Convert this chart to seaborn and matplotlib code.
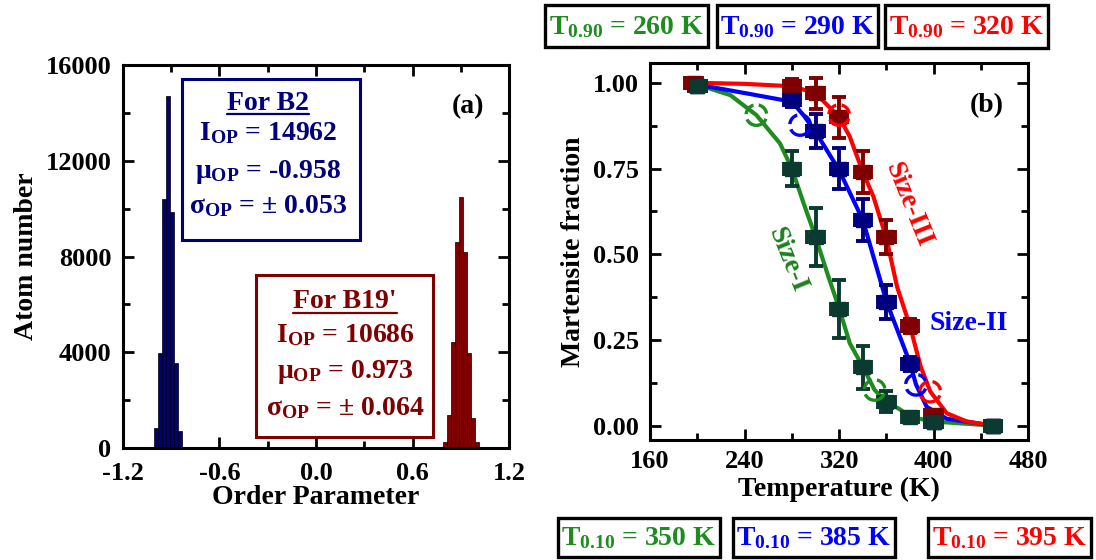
import numpy as np
import pandas as pd
import matplotlib
matplotlib.use("Agg")
import matplotlib.pyplot as plt
from matplotlib.patches import Rectangle
from matplotlib.ticker import MultipleLocator
import seaborn as sns

# ---------------- Panel (a) data: order-parameter histograms ----------------
b2_centers = [-1.02, -0.995, -0.97, -0.945, -0.92, -0.895, -0.87, -0.845, -0.82]
b2_counts = [60, 820, 3950, 10400, 14700, 9870, 3550, 690, 60]
b19_centers = [0.80, 0.825, 0.85, 0.875, 0.90, 0.925, 0.95, 0.975, 1.0]
b19_counts = [230, 1380, 4420, 8600, 10500, 8200, 3980, 1250, 230]
bin_width = 0.025

# ---------------- Panel (b) data: martensite fraction ----------------
size1_T = [200, 280, 300, 320, 340, 360, 380, 400, 450]
size1_f = [0.99, 0.75, 0.55, 0.34, 0.17, 0.07, 0.025, 0.01, 0.0]
size1_ferr = [0.01, 0.05, 0.085, 0.085, 0.063, 0.03, 0.01, 0.01, 0.01]
size2_T = [200, 280, 300, 320, 340, 360, 380, 400, 450]
size2_f = [0.99, 0.95, 0.86, 0.75, 0.60, 0.36, 0.18, 0.01, 0.0]
size2_ferr = [0.01, 0.02, 0.05, 0.06, 0.06, 0.05, 0.02, 0.01, 0.01]
size3_T = [197, 280, 300, 320, 340, 360, 380, 400, 450]
size3_f = [1.0, 0.99, 0.97, 0.90, 0.74, 0.55, 0.29, 0.03, 0.0]
size3_ferr = [0.01, 0.02, 0.045, 0.06, 0.06, 0.05, 0.02, 0.01, 0.01]
T_err = 7

# fitted curves
fit1_T = [200, 228, 250, 270, 280, 290, 300, 310, 320, 329, 340, 350, 360, 372, 380, 400, 450]
fit1_f = [0.995, 0.964, 0.906, 0.823, 0.75, 0.648, 0.551, 0.444, 0.342, 0.24, 0.172, 0.104, 0.07, 0.046, 0.025, 0.012, 0.0]
fit2_T = [200, 242, 280, 290, 300, 320, 340, 360, 380, 385, 394, 411, 450]
fit2_f = [0.995, 0.969, 0.945, 0.905, 0.857, 0.745, 0.60, 0.362, 0.182, 0.12, 0.055, 0.02, 0.0]
fit3_T = [200, 240, 280, 300, 320, 329, 340, 349, 360, 369, 380, 389, 397, 411, 428, 450]
fit3_f = [1.0, 0.997, 0.99, 0.97, 0.90, 0.843, 0.74, 0.668, 0.546, 0.405, 0.289, 0.172, 0.10, 0.036, 0.012, 0.0]

# T0.90 / T0.10 circles
circ1_T, circ1_f = [250, 350], [0.906, 0.104]
circ2_T, circ2_f = [287, 385], [0.877, 0.119]
circ3_T, circ3_f = [320, 397], [0.906, 0.099]

t90_labels = ["260", "290", "320"]
t10_labels = ["350", "385", "395"]

# ---------------- style ----------------
sns.set_style("ticks")
plt.rcParams["font.family"] = ["Liberation Serif", "DejaVu Serif"]
plt.rcParams["font.weight"] = "bold"
plt.rcParams["text.color"] = "black"
plt.rcParams["axes.labelcolor"] = "black"
plt.rcParams["mathtext.fontset"] = "custom"
plt.rcParams["mathtext.rm"] = "Liberation Serif:bold"
plt.rcParams["mathtext.it"] = "Liberation Serif:bold"
plt.rcParams["mathtext.bf"] = "Liberation Serif:bold"

TICK_FS = 19
LAB_FS = 20
BOX_FS = 20

fig = plt.figure(figsize=(10.96, 5.6), dpi=100)
W, H = 1096, 560

def px_axes(x0, x1, ytop, ybot):
    return fig.add_axes([x0 / W, 1 - ybot / H, (x1 - x0) / W, (ybot - ytop) / H])

axa = px_axes(122.7, 509.3, 65, 448)
axb = px_axes(650, 1028.3, 63.3, 440)

def style_axes(ax, xpad):
    for s in ax.spines.values():
        s.set_linewidth(2.2)
        s.set_color("black")
        s.set_visible(True)
    ax.tick_params(which="both", direction="in", top=True, right=True,
                   width=2.0, colors="black", labelsize=TICK_FS)
    ax.tick_params(which="major", length=8)
    ax.tick_params(which="minor", length=5)
    ax.tick_params(axis="x", which="major", pad=xpad)
    ax.tick_params(axis="y", which="major", pad=8)
    for lab in ax.get_xticklabels() + ax.get_yticklabels():
        lab.set_fontweight("bold")

# ---------------- Panel (a) ----------------
navy = "#00007F"
maroon = "#7F0000"
df_b2 = pd.DataFrame({"op": b2_centers, "n": b2_counts})
df_b19 = pd.DataFrame({"op": b19_centers, "n": b19_counts})
sns.histplot(data=df_b2, x="op", weights="n", binwidth=bin_width,
             binrange=(b2_centers[0] - bin_width / 2, b2_centers[-1] + bin_width / 2), ax=axa,
             color=navy, alpha=1, edgecolor="black", linewidth=0.5)
sns.histplot(data=df_b19, x="op", weights="n", binwidth=bin_width,
             binrange=(b19_centers[0] - bin_width / 2, b19_centers[-1] + bin_width / 2), ax=axa,
             color=maroon, alpha=1, edgecolor="black", linewidth=0.5)
axa.set_xlim(-1.2, 1.2)
axa.set_ylim(0, 16000)
axa.xaxis.set_major_locator(MultipleLocator(0.6))
axa.xaxis.set_minor_locator(MultipleLocator(0.3))
axa.yaxis.set_major_locator(MultipleLocator(4000))
axa.yaxis.set_minor_locator(MultipleLocator(2000))
axa.set_xticks([-1.2, -0.6, 0.0, 0.6, 1.2])
axa.set_xticklabels(["-1.2", "-0.6", "0.0", "0.6", "1.2"])
axa.set_xlabel("Order Parameter", fontsize=LAB_FS, fontweight="bold", labelpad=0, color="black")
axa.set_ylabel("Atom number", fontsize=LAB_FS, fontweight="bold", labelpad=5, color="black")
style_axes(axa, 10)

# text boxes in panel (a)
axa.add_patch(Rectangle((0.1526, 0.543), 0.614 - 0.1526, 0.963 - 0.543, transform=axa.transAxes,
                        fill=False, edgecolor=navy, linewidth=2.2, zorder=5))
axa.add_patch(Rectangle((0.345, 0.0295), 0.803 - 0.345, 0.452 - 0.0295, transform=axa.transAxes,
                        fill=False, edgecolor=maroon, linewidth=2.2, zorder=5))

head_texts = []
def box_lines(xc, ys, lines, color):
    for i, (y, s) in enumerate(zip(ys, lines)):
        t = axa.text(xc, y, s, transform=axa.transAxes, ha="center", va="baseline",
                     fontsize=BOX_FS, fontweight="bold", color=color, zorder=6)
        if i == 0:
            head_texts.append((t, color))

box_lines(0.376, [0.883, 0.804, 0.704, 0.613],
          ["For B2", r"I$_{\mathrm{OP}}$ = 14962", r"μ$_{\mathrm{OP}}$ = -0.958",
           r"σ$_{\mathrm{OP}}$ = ± 0.053"], navy)
box_lines(0.575, [0.365, 0.2776, 0.182, 0.086],
          ["For B19'", r"I$_{\mathrm{OP}}$ = 10686", r"μ$_{\mathrm{OP}}$ = 0.973",
           r"σ$_{\mathrm{OP}}$ = ± 0.064"], maroon)
axa.text(0.894, 0.891, "(a)", transform=axa.transAxes, ha="center", va="center",
         fontsize=BOX_FS, fontweight="bold", color="black")

# ---------------- Panel (b) ----------------
c_green, c_blue, c_red = "#1E8C1E", "#0000FF", "#FF0000"
m_green, m_blue, m_red = "#0B3B30", "#00007F", "#800000"

for fT, ff, col in [(fit1_T, fit1_f, c_green), (fit2_T, fit2_f, c_blue), (fit3_T, fit3_f, c_red)]:
    sns.lineplot(x=fT, y=ff, ax=axb, color=col, linewidth=3.0, sort=False,
                 estimator=None, zorder=2)

for T, f, fe, mc in [(size3_T, size3_f, size3_ferr, m_red),
                     (size2_T, size2_f, size2_ferr, m_blue),
                     (size1_T, size1_f, size1_ferr, m_green)]:
    axb.errorbar(T, f, yerr=fe, xerr=T_err, fmt="s", color=mc, markersize=10,
                 elinewidth=2.8, capsize=5, capthick=2.8, zorder=4)

for cT, cf, col in [(circ1_T, circ1_f, c_green), (circ2_T, circ2_f, c_blue), (circ3_T, circ3_f, c_red)]:
    sns.scatterplot(x=cT, y=cf, ax=axb, s=220, facecolors="none", edgecolor=col,
                    linewidth=2.4, linestyle="--", marker="o", zorder=5)

axb.set_xlim(160, 480)
axb.set_ylim(-0.042, 1.057)
axb.xaxis.set_major_locator(MultipleLocator(80))
axb.xaxis.set_minor_locator(MultipleLocator(40))
axb.yaxis.set_major_locator(MultipleLocator(0.25))
axb.yaxis.set_minor_locator(MultipleLocator(0.125))
axb.set_yticks([0, 0.25, 0.5, 0.75, 1.0])
axb.set_yticklabels(["0.00", "0.25", "0.50", "0.75", "1.00"])
axb.set_xlabel("Temperature (K)", fontsize=LAB_FS, fontweight="bold", labelpad=3, color="black")
axb.set_ylabel("Martensite fraction", fontsize=LAB_FS, fontweight="bold", labelpad=5, color="black")
style_axes(axb, 7)

axb.text(275.7, 0.483, "Size-I", rotation=-68, color="#1E801E", fontsize=BOX_FS,
         fontweight="bold", ha="center", va="center", rotation_mode="anchor")
axb.text(378.7, 0.643, "Size-III", rotation=-68, color=c_red, fontsize=BOX_FS,
         fontweight="bold", ha="center", va="center", rotation_mode="anchor")
axb.text(429.5, 0.298, "Size-II", color=c_blue, fontsize=BOX_FS,
         fontweight="bold", ha="center", va="center")
axb.text(445, 0.935, "(b)", color="black", fontsize=BOX_FS,
         fontweight="bold", ha="center", va="center")

# ---------------- T boxes (figure coords) ----------------
def fig_box(x0, x1, ytop, ybot, text, color):
    fig.patches.append(Rectangle((x0 / W, 1 - ybot / H), (x1 - x0) / W, (ybot - ytop) / H,
                                 transform=fig.transFigure, fill=False, edgecolor="black",
                                 linewidth=2.4))
    fig.text((x0 + x1) / 2 / W, 1 - ((ytop + ybot) / 2 + 1) / H, text, ha="center", va="center",
             fontsize=BOX_FS, fontweight="bold", color=color)

cols = [c_green, c_blue, c_red]
top_boxes = [(545, 708, 5, 47), (717, 878, 5, 47), (885, 1048, 5, 48)]
bot_boxes = [(558, 720, 518, 557), (733, 895, 518, 557), (928, 1091, 518, 557)]
for (x0, x1, yt, yb), lab, c in zip(top_boxes, t90_labels, cols):
    fig_box(x0, x1, yt, yb, r"T$_{0.90}$ = " + lab + " K", c)
for (x0, x1, yt, yb), lab, c in zip(bot_boxes, t10_labels, cols):
    fig_box(x0, x1, yt, yb, r"T$_{0.10}$ = " + lab + " K", c)

# underline headers
fig.canvas.draw()
renderer = fig.canvas.get_renderer()
inv = axa.transAxes.inverted()
for t, col in head_texts:
    bb = t.get_window_extent(renderer)
    (x0, y0), (x1, y1) = inv.transform([(bb.x0, bb.y0), (bb.x1, bb.y1)])
    yb = t.get_position()[1] - 0.012
    axa.plot([x0, x1], [yb, yb], transform=axa.transAxes, color=col, linewidth=1.6, zorder=6)

fig.savefig("out.png", dpi=100)
